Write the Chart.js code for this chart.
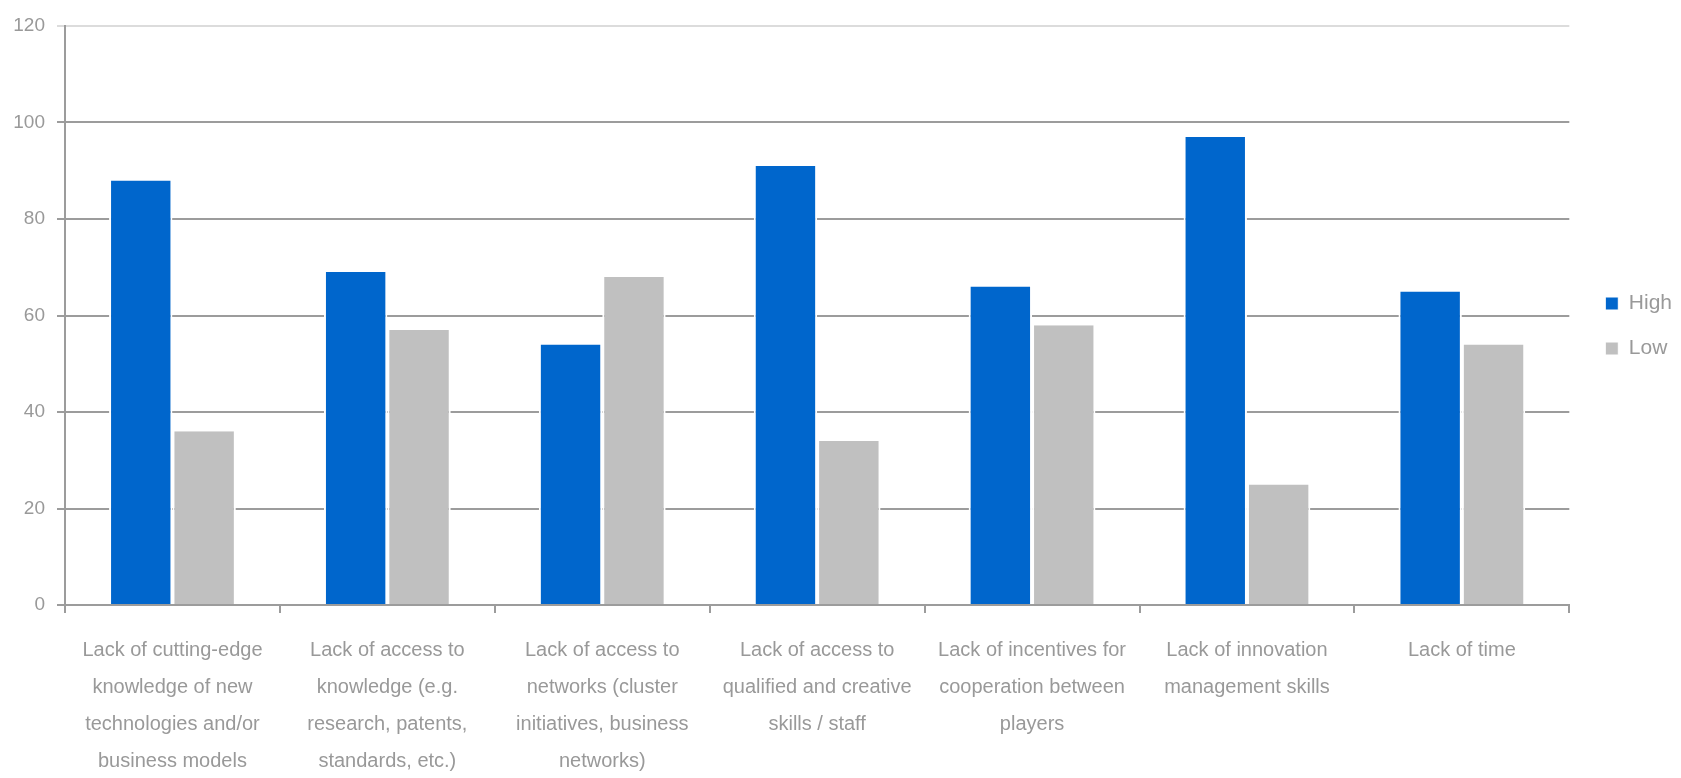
<!DOCTYPE html>
<html>
<head>
<meta charset="utf-8">
<script src="https://cdn.jsdelivr.net/npm/chart.js@4.4.1/dist/chart.umd.min.js"></script>
<style>
  html, body { margin: 0; padding: 0; background: #fff; }
  #wrap { width: 1681px; height: 778px; position: relative; }
</style>
</head>
<body>
<div id="wrap"><canvas id="barChart"></canvas></div>
<script>
const categories = [
  ['Lack of cutting-edge', 'knowledge of new', 'technologies and/or', 'business models'],
  ['Lack of access to', 'knowledge (e.g.', 'research, patents,', 'standards, etc.)'],
  ['Lack of access to', 'networks (cluster', 'initiatives, business', 'networks)'],
  ['Lack of access to', 'qualified and creative', 'skills / staff'],
  ['Lack of incentives for', 'cooperation between', 'players'],
  ['Lack of innovation', 'management skills'],
  ['Lack of time']
];
const highValues = [88, 69, 54, 91, 66, 97, 65];
const lowValues = [36, 57, 68, 34, 58, 25, 54];
const yTicks = [0, 20, 40, 60, 80, 100, 120];

const textColor = '#999999';
const lineColor = '#9c9c9c';
const fontFamily = '"Liberation Sans", Arial, sans-serif';

// nudge the legend up/right so it sits beside the bars like the original
const legendShift = {
  id: 'legendShift',
  afterLayout(chart) {
    const lg = chart.legend;
    if (!lg) return;
    lg.top -= 76;
    lg.bottom -= 76;
    lg.left += 12;
    lg.right += 12;
  }
};

const ctx = document.getElementById('barChart').getContext('2d');
const chart = new Chart(ctx, {
  type: 'bar',
  data: {
    labels: categories,
    datasets: [
      {
        label: 'High',
        data: highValues,
        backgroundColor: '#0066CC',
        borderColor: '#ffffff',
        borderWidth: { left: 2, right: 2, top: 0, bottom: 0 },
        categoryPercentage: 0.59,
        barPercentage: 1.0
      },
      {
        label: 'Low',
        data: lowValues,
        backgroundColor: '#C0C0C0',
        borderColor: '#ffffff',
        borderWidth: { left: 2, right: 2, top: 0, bottom: 0 },
        categoryPercentage: 0.59,
        barPercentage: 1.0
      }
    ]
  },
  options: {
    responsive: true,
    maintainAspectRatio: false,
    animation: false,
    layout: { padding: { top: 26, left: 0, right: 11, bottom: 0 } },
    scales: {
      x: {
        offset: true,
        afterFit: (s) => { s.height = 173; },
        grid: {
          offset: true,
          drawOnChartArea: false,
          drawTicks: true,
          tickLength: 8,
          color: lineColor,
          lineWidth: 2
        },
        border: { color: lineColor, width: 2 },
        ticks: {
          color: textColor,
          font: { family: fontFamily, size: 20, lineHeight: 1.85 },
          padding: 19,
          maxRotation: 0,
          autoSkip: false
        }
      },
      y: {
        min: 0,
        max: 120,
        afterFit: (s) => { s.width = 65; },
        afterBuildTicks: (axis) => { axis.ticks = yTicks.map(v => ({ value: v })); },
        grid: {
          tickLength: 8,
          color: (c) => c.tick && c.tick.value === 120 ? '#dcdcdc' : lineColor,
          lineWidth: 2
        },
        border: { color: lineColor, width: 2 },
        ticks: {
          color: textColor,
          font: { family: fontFamily, size: 19 },
          padding: 12
        }
      }
    },
    plugins: {
      legend: {
        position: 'right',
        labels: {
          boxWidth: 13,
          boxHeight: 13,
          padding: 24,
          color: textColor,
          font: { family: fontFamily, size: 21 }
        }
      },
      tooltip: { enabled: false }
    }
  },
  plugins: [legendShift]
});
</script>
</body>
</html>
